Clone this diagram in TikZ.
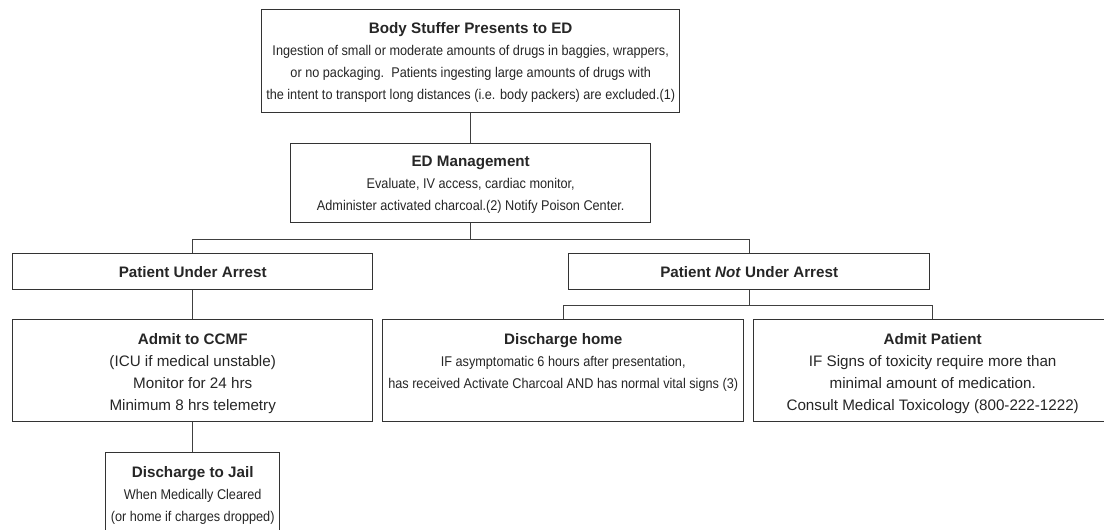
\documentclass[tikz,border=0pt]{standalone}
\usepackage{fontspec}
\setmainfont{Liberation Sans}
\newfontfamily\narrowfont{Liberation Sans}[FakeStretch=0.9]
\begin{document}
\begin{tikzpicture}[x=1pt,y=-1pt,
  box/.style={draw=black!80, line width=1.4pt, fill=white, inner sep=0pt, anchor=north west},
  txt/.style={anchor=north, align=center, inner sep=0pt, text=black!85, font=\narrowfont\fontsize{14.1}{22}\selectfont},
  big/.style={font=\fontsize{15.2}{22}\selectfont},
  conn/.style={draw=black!75, line width=1.4pt}]
\useasboundingbox (0,0) rectangle (1104,530);
\clip (0,0) rectangle (1104,530);
\fill[white] (0,0) rectangle (1104,530);
\newcommand{\ttl}[1]{\rule{0pt}{10pt}{\normalfont\bfseries\fontsize{15.2}{22}\selectfont #1}}
% boxes
\node[box, minimum width=418pt, minimum height=103pt] (b1) at (261,9) {};
\node[box, minimum width=360pt, minimum height=79pt] (b2) at (290,143) {};
\node[box, minimum width=360pt, minimum height=36pt] (pua) at (12,253) {};
\node[box, minimum width=361pt, minimum height=36pt] (pnua) at (568,253) {};
\node[box, minimum width=360pt, minimum height=102pt] (ccmf) at (12,319) {};
\node[box, minimum width=361pt, minimum height=102pt] (dh) at (382,319) {};
\node[box, minimum width=358pt, minimum height=102pt] (ap) at (753,319) {};
\node[box, minimum width=174pt, minimum height=95pt] (jail) at (105,452) {};
% texts
\node[txt] (t1) at ([yshift=-13pt]b1.north) {\ttl{Body Stuffer Presents to ED}\\
Ingestion of small or moderate amounts of drugs in baggies, wrappers,\\
or no packaging.\ \ Patients ingesting large amounts of drugs with\\
the intent to transport long distances (i.e. body packers) are excluded.(1)};
\node[txt] (t2) at ([yshift=-13pt]b2.north) {\ttl{ED Management}\\
Evaluate, IV access, cardiac monitor,\\
Administer activated charcoal.(2) Notify Poison Center.};
\node[txt, anchor=center] (t3) at (pua.center) {\ttl{Patient Under Arrest}};
\node[txt, anchor=center] (t4) at (pnua.center) {\ttl{Patient \textit{Not} Under Arrest}};
\node[txt, big] (t5) at ([yshift=-14pt]ccmf.north) {\ttl{Admit to CCMF}\\
(ICU if medical unstable)\\
Monitor for 24 hrs\\
Minimum 8 hrs telemetry};
\node[txt] (t6) at ([yshift=-14pt]dh.north) {\ttl{Discharge home}\\
IF asymptomatic 6 hours after presentation,\\
has received Activate Charcoal AND has normal vital signs (3)};
\node[txt, big] (t7) at ([yshift=-14pt]ap.north) {\ttl{Admit Patient}\\
IF Signs of toxicity require more than\\
minimal amount of medication.\\
Consult Medical Toxicology (800-222-1222)};
\node[txt] (t8) at ([yshift=-14pt]jail.north) {\ttl{Discharge to Jail}\\
When Medically Cleared\\
(or home if charges dropped)};
% connectors
\coordinate (j1) at ([yshift=-16pt]b2.south);
\coordinate (j2) at ([yshift=-15pt]pnua.south);
\draw[conn] (b1.south) -- (b2.north);
\draw[conn] (b2.south) -- (j1);
\draw[conn] (j1) -| (pua.north);
\draw[conn] (j1) -| (pnua.north);
\draw[conn] (pua.south) -- (ccmf.north);
\draw[conn] (pnua.south) -- (j2);
\draw[conn] (j2) -| (dh.north);
\draw[conn] (j2) -| (ap.north);
\draw[conn] (ccmf.south) -- (jail.north);
\end{tikzpicture}
\end{document}
